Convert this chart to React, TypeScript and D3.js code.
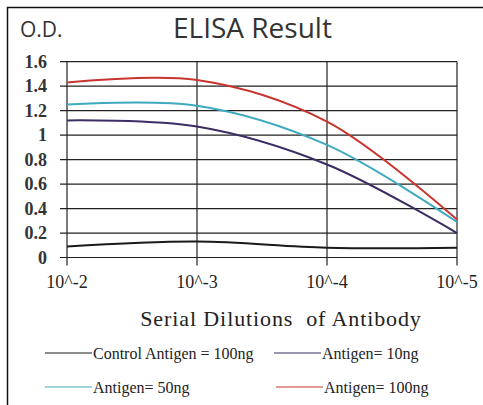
import { useEffect, useRef } from "react";
import * as d3 from "d3";

const DILUTIONS = ["10^-2", "10^-3", "10^-4", "10^-5"];
const Y_TICKS = [0, 0.2, 0.4, 0.6, 0.8, 1, 1.2, 1.4, 1.6];

const CONTROL_100 = [0.09, 0.13, 0.08, 0.08];
const ANTIGEN_10 = [1.12, 1.07, 0.76, 0.2];
const ANTIGEN_50 = [1.25, 1.24, 0.92, 0.29];
const ANTIGEN_100 = [1.43, 1.45, 1.11, 0.31];

const SERIES = [
  { name: "Control Antigen = 100ng", values: CONTROL_100, color: "#1a1a1a" },
  { name: "Antigen= 10ng", values: ANTIGEN_10, color: "#3b2d63" },
  { name: "Antigen= 50ng", values: ANTIGEN_50, color: "#3fa9c0" },
  { name: "Antigen= 100ng", values: ANTIGEN_100, color: "#c8352f" },
];

export default function App() {
  const svgRef = useRef<SVGSVGElement>(null);

  useEffect(() => {
    const svg = d3.select(svgRef.current);
    svg.selectAll("*").remove();
    const W = 483;
    const H = 405;
    const left = 67;
    const right = 457;
    const top = 61.7;
    const bottom = 257.5;

    svg.attr("width", W).attr("height", H);
    svg.append("rect").attr("width", W).attr("height", H).attr("fill", "#fff");

    // outer frame, only left and top edges show in the crop
    svg
      .append("path")
      .attr("d", `M7.5,${H} V7.5 H${W}`)
      .attr("fill", "none")
      .attr("stroke", "#111")
      .attr("stroke-width", 1.5);

    const x = d3.scalePoint().domain(DILUTIONS).range([left, right]);
    const y = d3.scaleLinear().domain([0, 1.6]).range([bottom, top]);

    const grid = svg.append("g").attr("stroke", "#222").attr("stroke-width", 1.2);
    grid
      .selectAll("line.h")
      .data(Y_TICKS)
      .join("line")
      .attr("class", "h")
      .attr("x1", left - 7)
      .attr("x2", right)
      .attr("y1", (d) => y(d))
      .attr("y2", (d) => y(d));
    grid
      .selectAll("line.v")
      .data(DILUTIONS)
      .join("line")
      .attr("class", "v")
      .attr("x1", (d) => x(d)!)
      .attr("x2", (d) => x(d)!)
      .attr("y1", top)
      .attr("y2", bottom + 8);

    svg
      .append("g")
      .selectAll("text")
      .data(Y_TICKS)
      .join("text")
      .attr("x", 47)
      .attr("y", (d) => y(d) + 6)
      .attr("text-anchor", "end")
      .attr("font-family", "Liberation Serif, serif")
      .attr("font-size", 18)
      .attr("font-weight", "bold")
      .attr("fill", "#333")
      .text((d) => String(d));

    svg
      .append("g")
      .selectAll("text")
      .data(DILUTIONS)
      .join("text")
      .attr("x", (d) => x(d)!)
      .attr("y", 288)
      .attr("text-anchor", "middle")
      .attr("font-family", "Liberation Serif, serif")
      .attr("font-size", 18)
      .attr("fill", "#222")
      .text((d) => d);

    const line = d3
      .line<number>()
      .x((_, i) => x(DILUTIONS[i])!)
      .y((d) => y(d))
      .curve(d3.curveCatmullRom);

    svg
      .append("g")
      .selectAll("path")
      .data(SERIES)
      .join("path")
      .attr("d", (d) => line(d.values))
      .attr("fill", "none")
      .attr("stroke", (d) => d.color)
      .attr("stroke-width", 2);

    svg
      .append("text")
      .attr("x", 20)
      .attr("y", 37)
      .attr("font-family", "Open Sans, sans-serif")
      .attr("font-size", 21)
      .attr("fill", "#333")
      .text("O.D.");

    svg
      .append("text")
      .attr("x", 173)
      .attr("y", 38)
      .attr("font-family", "Open Sans, sans-serif")
      .attr("font-size", 28)
      .attr("fill", "#333")
      .text("ELISA Result");

    svg
      .append("text")
      .attr("x", 281)
      .attr("y", 326)
      .attr("text-anchor", "middle")
      .attr("font-family", "Liberation Serif, serif")
      .attr("font-size", 22)
      .attr("letter-spacing", 0.9)
      .attr("fill", "#222")
      .style("white-space", "pre")
      .text("Serial Dilutions  of Antibody");

    const legendPos = [
      { lx: 45, ly: 353 },
      { lx: 274, ly: 353 },
      { lx: 45, ly: 387 },
      { lx: 276, ly: 387 },
    ];
    const lg = svg
      .append("g")
      .selectAll("g")
      .data(SERIES)
      .join("g")
      .attr("transform", (_, i) => `translate(${legendPos[i].lx},${legendPos[i].ly})`);
    lg.append("line")
      .attr("x1", 0)
      .attr("x2", 47)
      .attr("stroke", (d) => d.color)
      .attr("stroke-width", 1.2);
    lg.append("text")
      .attr("x", 48)
      .attr("y", 6)
      .attr("font-family", "Liberation Serif, serif")
      .attr("font-size", 16)
      .attr("fill", "#222")
      .text((d) => d.name);
  }, []);

  return (
    <svg
      ref={svgRef}
      style={{ position: "absolute", left: 0, top: 0, display: "block" }}
    />
  );
}
